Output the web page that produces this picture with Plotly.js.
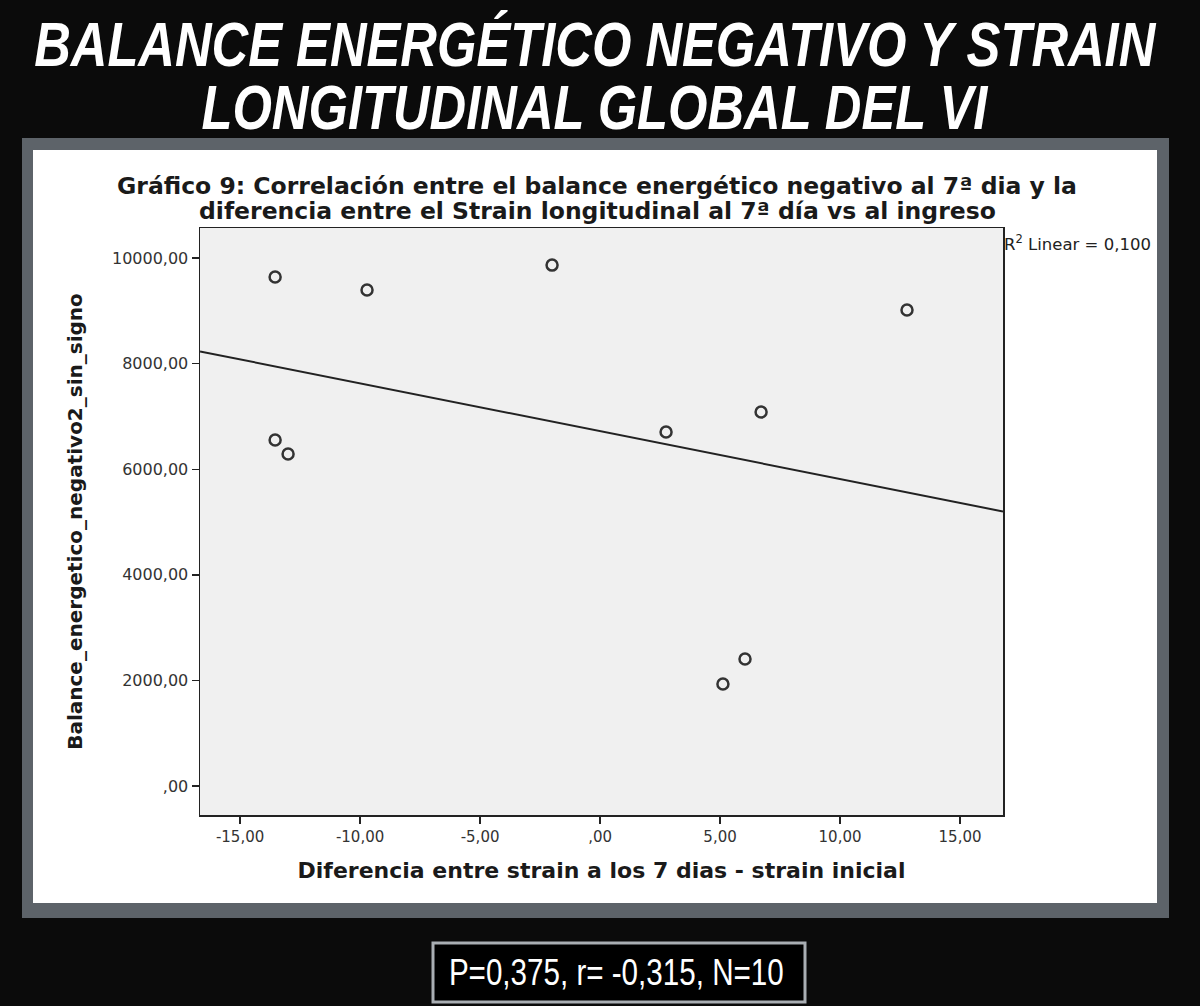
<!DOCTYPE html>
<html>
<head>
<meta charset="utf-8">
<script src="https://cdn.plot.ly/plotly-3.0.1.min.js"></script>
<style>
  html, body { margin: 0; padding: 0; background: #0b0b0b; }
  #plot { width: 1200px; height: 1006px; }
</style>
</head>
<body>
<div id="plot"></div>
<script>
// values
var strainDiff = [-13.54, -9.71, -2.0, 12.79, -13.54, -13.0, 2.75, 6.71, 6.04, 5.12];
var balance = [9640, 9394, 9867, 9015, 6553, 6288, 6705, 7083, 2405, 1932];

var xTickVals = [-15, -10, -5, 0, 5, 10, 15];
var xTickText = ['-15,00', '-10,00', '-5,00', ',00', '5,00', '10,00', '15,00'];
var yTickVals = [0, 2000, 4000, 6000, 8000, 10000];
var yTickText = [',00', '2000,00', '4000,00', '6000,00', '8000,00', '10000,00'];

var xRange = [-16.67, 16.79];
var yRange = [-549, 10570];

// plot area in page pixels, used to place the slide decoration
var L = 200, R = 1003, T = 228, B = 815;
function px(x) { return (x - L) / (R - L); }
function py(y) { return (B - y) / (B - T); }

// least squares line, like SPSS "fit line at total"
function fitLine(xs, ys) {
  var n = xs.length, mx = 0, my = 0;
  for (var i = 0; i < n; i++) { mx += xs[i]; my += ys[i]; }
  mx /= n; my /= n;
  var sxy = 0, sxx = 0;
  for (var j = 0; j < n; j++) {
    sxy += (xs[j] - mx) * (ys[j] - my);
    sxx += (xs[j] - mx) * (xs[j] - mx);
  }
  var b = sxy / sxx, a = my - b * mx;
  return { x: xRange, y: [a + b * xRange[0], a + b * xRange[1]] };
}

// no narrow font installed, so squeeze the slide texts a bit
function squeeze(index, factor) {
  var el = document.querySelector('#plot .annotation[data-index="' + index + '"] text.annotation-text');
  if (!el) return;
  el.style.transformBox = 'fill-box';
  el.style.transformOrigin = 'center';
  el.style.transform = 'scaleX(' + factor + ')';
}

function makePlot() {
  var fit = fitLine(strainDiff, balance);

  var points = {
    x: strainDiff,
    y: balance,
    mode: 'markers',
    type: 'scatter',
    marker: {
      symbol: 'circle-open',
      size: 11,
      color: '#333',
      line: { width: 2.5, color: '#333' }
    },
    hoverinfo: 'x+y'
  };

  var line = {
    x: fit.x,
    y: fit.y,
    mode: 'lines',
    type: 'scatter',
    line: { color: '#222', width: 2 },
    hoverinfo: 'skip'
  };

  var data = [line, points];

  var sans = 'Liberation Sans, Arial, sans-serif';
  var wide = 'DejaVu Sans, Verdana, sans-serif';

  var layout = {
    width: 1200,
    height: 1006,
    showlegend: false,
    paper_bgcolor: '#0b0b0b',
    plot_bgcolor: 'rgba(0,0,0,0)',
    margin: { l: L, r: 1200 - R, t: T, b: 1006 - B, pad: 0 },
    xaxis: {
      range: xRange,
      tickvals: xTickVals,
      ticktext: xTickText,
      ticks: 'outside',
      ticklen: 7,
      tickwidth: 1.5,
      tickcolor: '#222',
      showline: true,
      mirror: true,
      linecolor: '#222',
      linewidth: 1.5,
      showgrid: false,
      zeroline: false,
      tickfont: { family: wide, size: 15, color: '#333' },
      title: {
        text: 'Diferencia entre strain a los 7 dias - strain inicial',
        font: { family: wide, size: 22, color: '#1a1a1a', weight: 'bold' },
        standoff: 18
      }
    },
    yaxis: {
      range: yRange,
      tickvals: yTickVals,
      ticktext: yTickText,
      ticks: 'outside',
      ticklen: 7,
      tickwidth: 1.5,
      tickcolor: '#222',
      showline: true,
      mirror: true,
      linecolor: '#222',
      linewidth: 1.5,
      showgrid: false,
      zeroline: false,
      tickfont: { family: wide, size: 16, color: '#333' },
      title: {
        text: 'Balance_energetico_negativo2_sin_signo',
        font: { family: wide, size: 20, color: '#1a1a1a', weight: 'bold' },
        standoff: 24
      }
    },
    shapes: [
      { type: 'rect', xref: 'paper', yref: 'paper', layer: 'below',
        x0: px(22), x1: px(1169), y0: py(918), y1: py(138),
        fillcolor: '#5d6369', line: { width: 0 } },
      { type: 'rect', xref: 'paper', yref: 'paper', layer: 'below',
        x0: px(33), x1: px(1157), y0: py(903), y1: py(150),
        fillcolor: '#ffffff', line: { width: 0 } },
      { type: 'rect', xref: 'paper', yref: 'paper', layer: 'below',
        x0: 0, x1: 1, y0: 0, y1: 1,
        fillcolor: '#f0f0f0', line: { width: 0 } },
      { type: 'rect', xref: 'paper', yref: 'paper', layer: 'below',
        x0: px(433), x1: px(805), y0: py(1002), y1: py(943),
        fillcolor: '#000000', line: { width: 3, color: '#a9aeb3' } }
    ],
    annotations: [
      { text: 'BALANCE ENERGÉTICO NEGATIVO Y STRAIN',
        xref: 'paper', yref: 'paper', x: px(595), y: py(44),
        xanchor: 'center', yanchor: 'middle', showarrow: false,
        font: { family: sans, size: 63, color: '#ffffff', weight: 'bold', style: 'italic' } },
      { text: 'LONGITUDINAL GLOBAL DEL VI',
        xref: 'paper', yref: 'paper', x: px(595), y: py(107),
        xanchor: 'center', yanchor: 'middle', showarrow: false,
        font: { family: sans, size: 63, color: '#ffffff', weight: 'bold', style: 'italic' } },
      { text: 'Gráfico 9: Correlación entre el balance energético negativo al 7ª dia y la',
        xref: 'paper', yref: 'paper', x: px(597), y: py(186),
        xanchor: 'center', yanchor: 'middle', showarrow: false,
        font: { family: wide, size: 23.5, color: '#1a1a1a', weight: 'bold' } },
      { text: 'diferencia entre el Strain longitudinal al 7ª día vs al ingreso',
        xref: 'paper', yref: 'paper', x: px(597), y: py(211),
        xanchor: 'center', yanchor: 'middle', showarrow: false,
        font: { family: wide, size: 23.5, color: '#1a1a1a', weight: 'bold' } },
      { text: 'R<sup>2</sup> Linear = 0,100',
        xref: 'paper', yref: 'paper', x: px(1002), y: py(243),
        xanchor: 'left', yanchor: 'middle', showarrow: false,
        font: { family: wide, size: 16.5, color: '#222' } },
      { text: 'P=0,375, r= -0,315, N=10',
        xref: 'paper', yref: 'paper', x: px(616), y: py(972),
        xanchor: 'center', yanchor: 'middle', showarrow: false,
        font: { family: sans, size: 37, color: '#ffffff' } }
    ]
  };

  Plotly.newPlot('plot', data, layout, { staticPlot: true }).then(function () {
    squeeze(0, 0.805);
    squeeze(1, 0.805);
    squeeze(5, 0.8);
  });
}

makePlot();
</script>
</body>
</html>
